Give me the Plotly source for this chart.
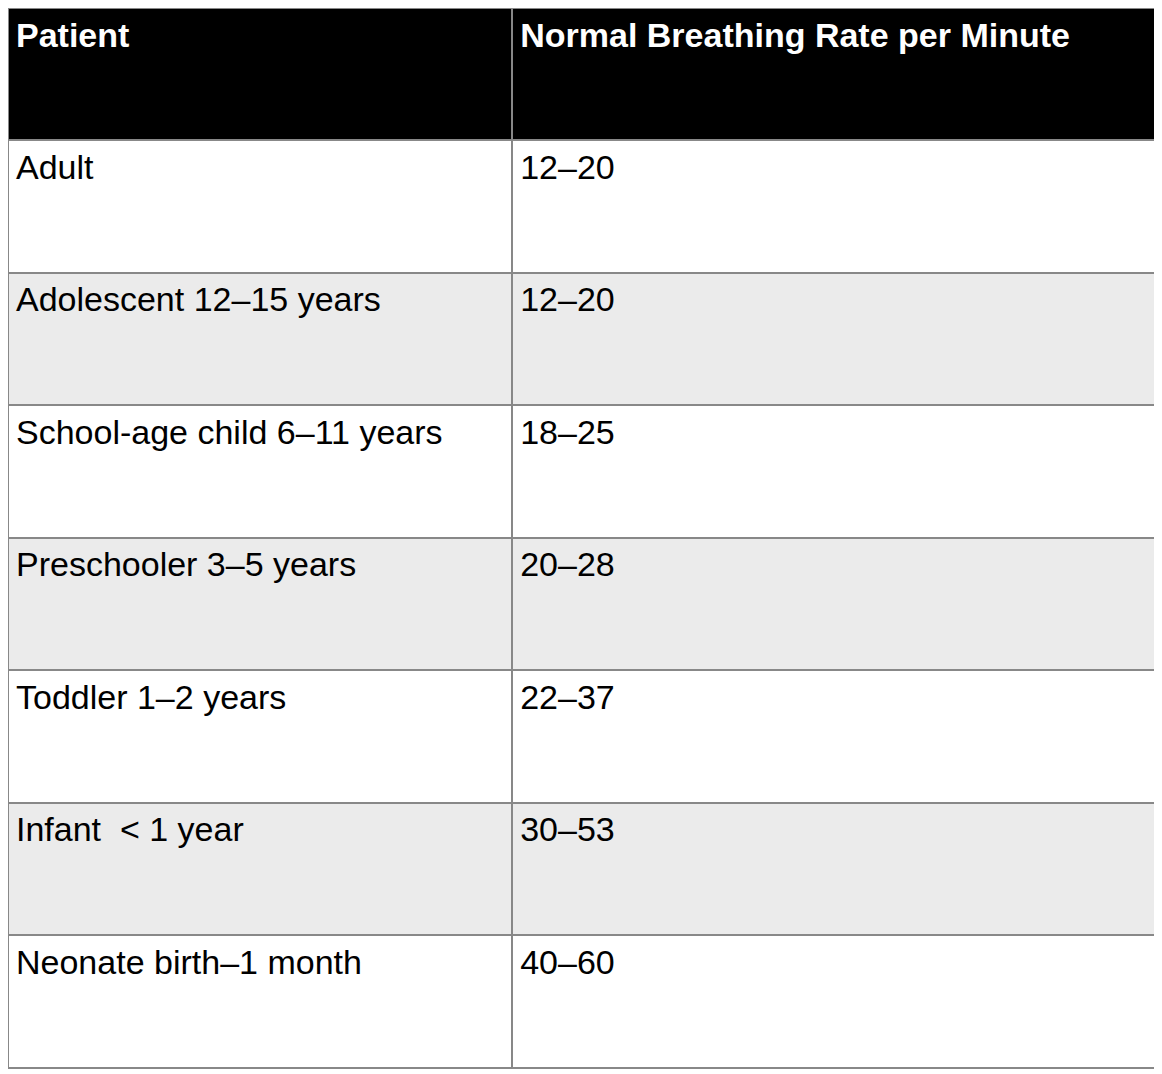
import plotly.graph_objects as go

header = ["Patient", "Normal Breathing Rate per Minute"]
patients = ["Adult", "Adolescent 12–15 years", "School-age child 6–11 years",
            "Preschooler 3–5 years", "Toddler 1–2 years",
            "Infant  &lt; 1 year", "Neonate birth–1 month"]
rates = ["12–20", "12–20", "18–25", "20–28", "22–37", "30–53", "40–60"]

fills = ["white" if i % 2 == 0 else "#ebebeb" for i in range(len(patients))]

fig = go.Figure(go.Table(
    columnwidth=[502, 643],
    header=dict(values=[f"<br><b>{h}</b>" for h in header],
                fill_color="black", line=dict(color="#888888", width=2),
                font=dict(color="white", size=34, family="Liberation Sans"),
                align="left", height=132),
    cells=dict(values=[["<br>" + p for p in patients], ["<br>" + r for r in rates]],
               fill_color=[fills, fills], line=dict(color="#888888", width=2),
               font=dict(color="black", size=34, family="Liberation Sans"),
               align="left", height=132.5),
))
fig.update_layout(width=1162, height=1074, margin=dict(l=0, r=12, t=0, b=0),
                  paper_bgcolor="white")
fig.write_html("out.html")
